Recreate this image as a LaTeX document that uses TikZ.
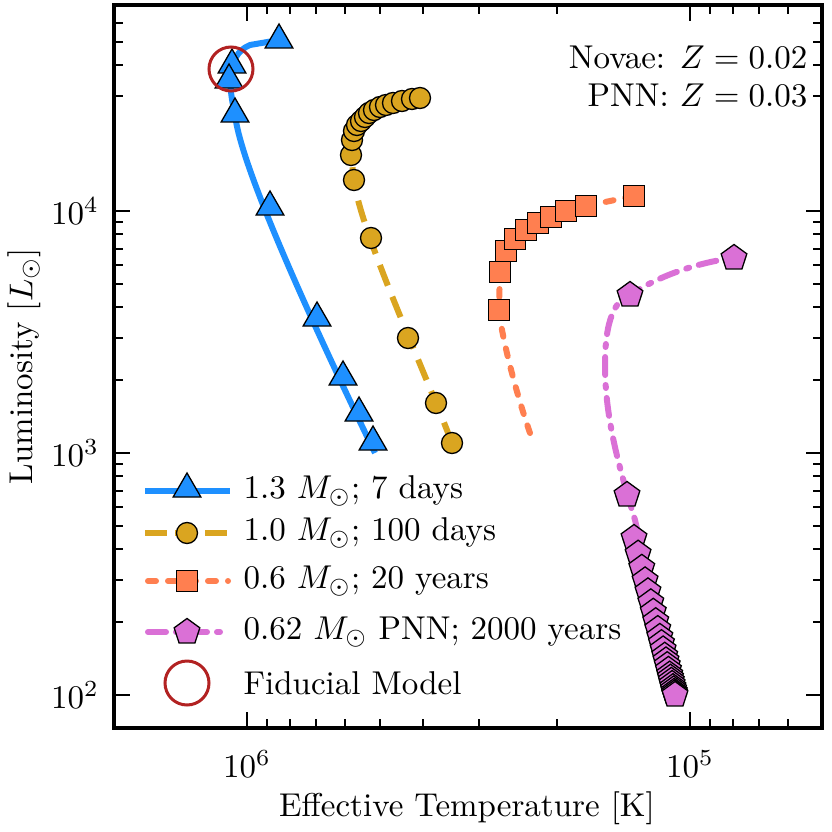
\documentclass[tikz,border=0pt]{standalone}
\usetikzlibrary{shapes.geometric}
\definecolor{cblue}{RGB}{30,144,255}
\definecolor{cgold}{RGB}{218,165,32}
\definecolor{corange}{RGB}{255,127,80}
\definecolor{corchid}{RGB}{218,112,214}
\definecolor{cred}{RGB}{178,34,34}
\begin{document}
\begin{tikzpicture}[x=1pt,y=-1pt,
  lbl/.style={scale=3.3,inner sep=0pt},
  tri/.style={regular polygon,regular polygon sides=3,minimum size=32pt,fill=cblue,draw=black,line width=1.3pt,inner sep=0pt},
  circ/.style={circle,minimum size=21pt,fill=cgold,draw=black,line width=1.3pt,inner sep=0pt},
  sq/.style={rectangle,minimum size=21pt,fill=corange,draw=black,line width=1.3pt,inner sep=0pt},
  pent/.style={regular polygon,regular polygon sides=5,minimum size=27pt,fill=corchid,draw=black,line width=1.3pt,inner sep=0pt},
  bline/.style={cblue,line width=6pt},
  gline/.style={cgold,line width=6pt,dash pattern=on 22pt off 12pt},
  oline/.style={corange,line width=6pt,line cap=round,dash pattern=on 8pt off 12pt},
  mline/.style={corchid,line width=6pt,line cap=round,dash pattern=on 18pt off 10pt on 3pt off 10pt},
  fid/.style={circle,draw=cred,line width=3pt,minimum size=44pt,inner sep=0pt}]
\useasboundingbox (0,0) rectangle (832,832);
% curves
\draw[bline] (375,453) .. controls (330,360) and (240,170) .. (235,114) .. controls (229,90) and (225,55) .. (250,45) -- (279,40);
\draw[gline] (452,443) .. controls (420,360) and (360,230) .. (354,180) .. controls (348,140) and (355,115) .. (380,107) .. controls (395,100) and (410,98) .. (420,98);
\draw[oline] (530,433) .. controls (515,390) and (500,330) .. (499,308) -- (500,270) .. controls (505,235) and (560,210) .. (586,206) -- (634,196);
\draw[mline] (675,695) -- (635,520) .. controls (620,470) and (605,420) .. (605,365) .. controls (605,320) and (615,300) .. (630,295) .. controls (660,275) and (700,262) .. (734,258);
% blue triangles
\foreach \p [count=\i] in {(279,40),(232,65),(229,80),(235,114),(270,207),(317,318),(343,377),(359,413),(373,442)}
  \node[tri] (b\i) at \p {};
% gold circles
\foreach \p [count=\i] in {(452,443),(436,403),(408,338),(371,238),(354,180),(351,155),(352,140),(354,131),(357,125),(361,121),(365,117),(369,113),(374,110),(380,107),(386,105),(393,103),(402,101),(412,99),(420,98)}
  \node[circ] (g\i) at \p {};
% orange squares
\foreach \p [count=\i] in {(499,310),(500,272),(506,251),(515,239),(526,230),(538,223),(551,217),(566,211),(586,206),(634,196)}
  \node[sq] (o\i) at \p {};
% pentagons
\foreach \t [count=\i] in {0,0.1,0.19,0.27,0.34,0.41,0.47,0.53,0.58,0.63,0.67,0.71,0.75,0.78,0.81,0.84,0.87,0.89,0.91,0.93,0.95,0.965,0.98,0.99,1.0}
  \node[pent] (p\i) at ({634+\t*41},{538+\t*157}) {};
\node[pent] (pa) at (627,495) {};
\node[pent] (pb) at (630,295) {};
\node[pent] (pc) at (734,258) {};
\node[fid] (fidm) at (231,69) {};
% frame and ticks
\draw[line width=4pt] (114,5) rectangle (822,728);
\foreach \e/\ys in {4/211,3/453,2/695}{
  \draw[line width=2.5pt] (114,\ys) -- ++(16,0) (822,\ys) -- ++(-16,0);}
\foreach \d in {2,...,9}{
  \pgfmathsetmacro{\yy}{453-242*log10(\d)}
  \pgfmathsetmacro{\yb}{695-242*log10(\d)}
  \draw[line width=2pt] (114,\yy) -- ++(9,0) (822,\yy) -- ++(-9,0) (114,\yb) -- ++(9,0) (822,\yb) -- ++(-9,0);
  \ifnum\d<3 \else
  \pgfmathsetmacro{\yt}{211-242*log10(\d)}
  \ifdim\yt pt>5pt \draw[line width=2pt] (114,\yt) -- ++(9,0) (822,\yt) -- ++(-9,0);\fi\fi}
\foreach \xs in {247,690}{\draw[line width=2.5pt] (\xs,728) -- ++(0,-16) (\xs,5) -- ++(0,16);}
\foreach \d in {2,...,9}{
  \pgfmathsetmacro{\xa}{247+443*log10(10/\d)}
  \pgfmathsetmacro{\xb}{690+443*log10(10/\d)}
  \pgfmathsetmacro{\xc}{247-443*log10(\d)}
  \draw[line width=2pt] (\xa,728) -- ++(0,-9) (\xa,5) -- ++(0,9);
  \ifdim\xb pt<820pt \draw[line width=2pt] (\xb,728) -- ++(0,-9) (\xb,5) -- ++(0,9);\fi
  \ifdim\xc pt>116pt \draw[line width=2pt] (\xc,728) -- ++(0,-9) (\xc,5) -- ++(0,9);\fi}
% axis labels
\node[lbl] (y4) at (75,211) {$10^4$};
\node[lbl] (y3) at (75,453) {$10^3$};
\node[lbl] (y2) at (75,695) {$10^2$};
\node[lbl] (x6) at (247,764) {$10^6$};
\node[lbl] (x5) at (690,764) {$10^5$};
\node[lbl] (xl) at (467,808) {Effective Temperature [K]};
\node[lbl,rotate=90] (yl) at (24,366) {Luminosity [$L_\odot$]};
\node[lbl,anchor=east] (nz) at (808,57) {Novae: $Z=0.02$};
\node[lbl,anchor=east] (pz) at (808,95) {PNN: $Z=0.03$};
% legend
\coordinate (l1a) at (145,491); \coordinate (l1b) at (230,491);
\draw[bline] (l1a) -- (l1b); \node[tri] (lt) at (187,489) {};
\coordinate (l2a) at (145,533); \coordinate (l2b) at (230,533);
\draw[gline,dash pattern=on 22pt off 8pt] (l2a) -- (l2b); \node[circ] (lc) at (187,533) {};
\coordinate (l3a) at (148,581); \coordinate (l3b) at (228,581);
\draw[oline] (l3a) -- (l3b); \node[sq] (ls) at (187,581) {};
\coordinate (l4a) at (148,632); \coordinate (l4b) at (228,632);
\draw[mline] (l4a) -- (l4b); \node[pent] (lp) at (187,632) {};
\node[fid] (lf) at (187,683) {};
\node[lbl,anchor=west] (t1) at (243,491) {1.3 $M_\odot$; 7 days};
\node[lbl,anchor=west] (t2) at (243,533) {1.0 $M_\odot$; 100 days};
\node[lbl,anchor=west] (t3) at (243,581) {0.6 $M_\odot$; 20 years};
\node[lbl,anchor=west] (t4) at (243,632) {0.62 $M_\odot$ PNN; 2000 years};
\node[lbl,anchor=west] (t5) at (243,683) {Fiducial Model};
\end{tikzpicture}
\end{document}
